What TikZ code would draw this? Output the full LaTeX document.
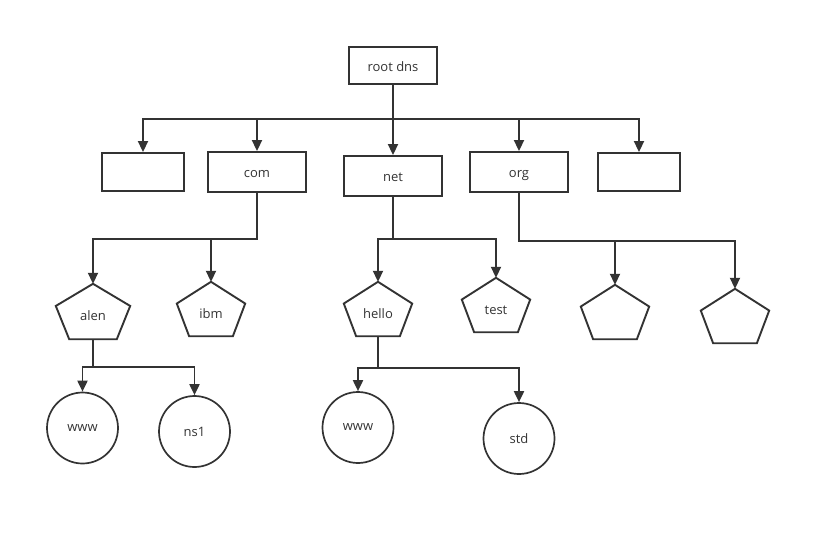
\documentclass[tikz,border=0pt]{standalone}
\usepackage{fontspec}
\setmainfont{Open Sans}
\usepackage{tikz}
\usetikzlibrary{shapes,arrows.meta,calc}

\definecolor{ink}{HTML}{333333}

\begin{document}
\begin{tikzpicture}[x=1pt,y=-1pt]
        \useasboundingbox (0,0) rectangle (831,536);
        \tikzstyle{every node}+=[inner sep=0pt, text=ink, font=\fontsize{13}{15}\selectfont]
        \tikzstyle{box}=[draw=ink, line width=1.9pt, rectangle, text height=11pt, text depth=0pt]
        \tikzstyle{ball}=[draw=ink, line width=1.7pt, circle, minimum size=71pt]
        \tikzstyle{pent}=[minimum width=68pt, minimum height=54pt, text height=18pt, text depth=0pt,
                append after command={\pgfextra{\draw[ink, line width=1.9pt, line join=miter]
                (\tikzlastnode.north)
                -- ($(\tikzlastnode.north east)!0.4!(\tikzlastnode.south east)$)
                -- ($(\tikzlastnode.south)!0.64!(\tikzlastnode.south east)$)
                -- ($(\tikzlastnode.south)!0.64!(\tikzlastnode.south west)$)
                -- ($(\tikzlastnode.north west)!0.4!(\tikzlastnode.south west)$) -- cycle;}}]
        \tikzstyle{arr}=[draw=ink, line width=1.9pt, -{Triangle[length=11pt,width=10pt]}]
        \node [box, minimum width=88pt, minimum height=37pt] (root) at (393,65.5) {root dns};
        \node [box, minimum width=82pt, minimum height=38pt] (b1) at (143,172) {};
        \node [box, minimum width=98pt, minimum height=40pt] (com) at (257,172) {com};
        \node [box, minimum width=98pt, minimum height=40pt] (net) at (393,176) {net};
        \node [box, minimum width=98pt, minimum height=40pt] (org) at (519,172) {org};
        \node [box, minimum width=82pt, minimum height=38pt] (b5) at (639,172) {};
        \node [pent, minimum width=74pt, minimum height=55pt] (alen) at (93,311.5) {alen};
        \node [pent] (ibm) at (211,309) {ibm};
        \node [pent] (hello) at (378,309) {hello};
        \node [pent] (test) at (496,305) {test};
        \node [pent] (p3) at (615,312) {};
        \node [pent] (p4) at (735,316) {};
        \node [ball] (www1) at (82.5,428) {www};
        \node [ball] (ns1) at (194.5,431.5) {ns1};
        \node [ball] (www2) at (358,427.5) {www};
        \node [ball] (std) at (519,438.5) {std};
        \coordinate (bus) at (393,119);
        \draw [arr] (root.south) -- (bus) -| (b1.north);
        \draw [arr] (root.south) -- (bus) -| (com.north);
        \draw [arr] (root.south) -- (net.north);
        \draw [arr] (root.south) -- (bus) -| (org.north);
        \draw [arr] (root.south) -- (bus) -| (b5.north);
        \draw [arr] (com.south) -- ++(0,46) coordinate (cfork) -| (alen.north);
        \draw [arr] (cfork) -| (ibm.north);
        \draw [arr] (net.south) -- ++(0,42) coordinate (nfork) -| (hello.north);
        \draw [arr] (nfork) -| (test.north);
        \draw [arr] (org.south) -- ++(0,48) coordinate (ofork) -| (p3.north);
        \draw [arr] (ofork) -| (p4.north);
        \draw [arr] (alen.south) -- ++(0,28) coordinate (afork) -| (www1.north);
        \draw [arr] (afork) -| (ns1.north);
        \draw [arr] (hello.south) -- ++(0,32) coordinate (hfork) -| (www2.north);
        \draw [arr] (hfork) -| (std.north);
\end{tikzpicture}
\end{document}
